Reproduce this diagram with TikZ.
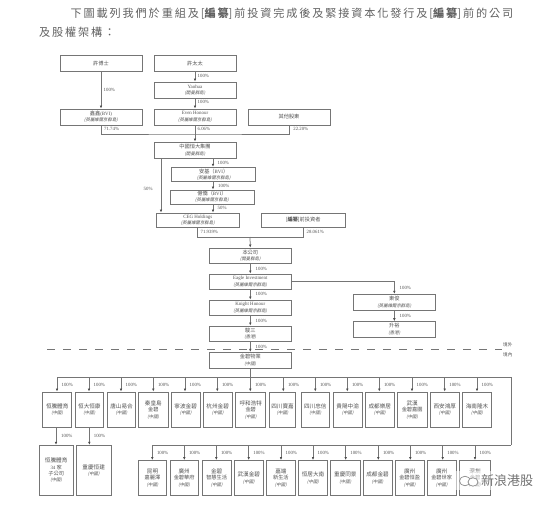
\documentclass[tikz,border=0pt]{standalone}
\usepackage{fontspec}
\setmainfont{Liberation Serif}
\newfontfamily\cjk{Noto Sans CJK TC}
\newfontfamily\cjki[FakeSlant=0.2]{Noto Sans CJK TC}
\usetikzlibrary{arrows.meta}
\definecolor{ln}{gray}{0.46}
\definecolor{tx}{gray}{0.32}
\tikzset{
 bx/.style={draw=ln,line width=0.95pt,fill=white,text=tx,align=center,inner sep=0pt,font=\fontsize{5.2}{6.4}\selectfont\cjk},
 cn/.style={draw=ln,line width=0.75pt},
 ar/.style={draw=ln,line width=0.75pt,-{Latex[length=3pt,width=2.6pt,color=black!70]}},
 pct/.style={text=tx,font=\fontsize{4.8}{5}\selectfont,inner sep=0pt,anchor=west},
 side/.style={text=tx,font=\fontsize{4.6}{5}\selectfont\cjk,inner sep=0pt,anchor=west},
 head/.style={text=black!62,font=\fontsize{11.15}{13}\selectfont\cjk,inner sep=0pt,anchor=west},
}
\newcommand{\bxn}[6]{\node[bx,minimum width=#4pt-#2pt,minimum height=#5pt-#3pt] (#1) at ({(#2+#4)/2},{(#3+#5)/2}) {#6};}
\newcommand{\lat}[1]{{\rmfamily\fontsize{4.9}{6.4}\selectfont #1}}
\newcommand{\ql}[1]{{\cjki\fontsize{4.4}{6.4}\selectfont (#1)}}
\newcommand{\rowf}{\fontsize{5.6}{6.8}\selectfont}
\begin{document}
\begin{tikzpicture}[x=1pt,y=-1pt]
\useasboundingbox (0,0) rectangle (550,506);
\fill[white] (0,0) rectangle (550,506);
% heading
\node[head] (h1) at (70.5,14) {下\,圖\,載\,列\,我\,們\,於\,重\,組\,及\,[\textbf{編\,纂}]\,前\,投\,資\,完\,成\,後\,及\,緊\,接\,資\,本\,化\,發\,行\,及\,[\textbf{編\,纂}]\,前\,的\,公\,司};
\node[head] (h2) at (39,32) {及\,股\,權\,架\,構\,：};
% upper chain
\bxn{a1}{60}{55}{142}{71.5}{許博士}
\bxn{a2}{154}{55}{236}{71.5}{許太太}
\bxn{a3}{154}{82}{236}{98}{\lat{Yaohua}\\\ql{開曼群島}}
\bxn{a4}{60}{109}{142}{125}{鑫鑫\lat{(BVI)}\\\ql{英屬維爾京群島}}
\bxn{a5}{154}{109}{236}{125}{\lat{Even Honour}\\\ql{英屬維爾京群島}}
\bxn{a6}{248}{109}{330}{125}{其他股東}
\bxn{b1}{154}{142}{236}{158.5}{中國恒大集團\\\ql{開曼群島}}
\bxn{b2}{171.7}{167.3}{255.7}{181.7}{安基（\lat{BVI}）\\\ql{英屬維爾京群島}}
\bxn{b3}{170}{190}{254}{204}{億僑（\lat{BVI}）\\\ql{英屬維爾京群島}}
\bxn{b4}{156}{213}{239.7}{227}{\lat{CEG Holdings}\\\ql{英屬維爾京群島}}
\bxn{b5}{261.3}{213}{345}{227}{[\textbf{編纂}]前投資者}
\bxn{c1}{209.3}{248}{291.3}{263.7}{本公司\\\ql{開曼群島}}
\bxn{c2}{209.3}{274}{291.3}{289.7}{\lat{Eagle Investment}\\\ql{英屬維爾京群島}}
\bxn{c3}{209.3}{300}{291.3}{315.3}{\lat{Knight Honour}\\\ql{英屬維爾京群島}}
\bxn{c4}{209.3}{326}{291.3}{341.7}{駿三\\\ql{香港}}
\bxn{c5}{209.3}{352.3}{291.3}{368}{金碧物業\\\ql{中國}}
\bxn{d1}{353.7}{294.3}{435}{310}{東俊\\\ql{英屬維爾京群島}}
\bxn{d2}{353.7}{321.7}{435}{337}{升裕\\\ql{香港}}
% connectors upper
\coordinate (xm) at (213,0);
\coordinate (xl) at (161,0);
\coordinate (xa) at (197.7,0);
\coordinate (xb) at (303.3,0);
\coordinate (busA) at (195,134);
\coordinate (busB) at (250,237);
\coordinate (ye) at (0,281);
\draw[ar] (a1) -- (a4);
\draw[ar] (a2) -- (a3);
\draw[ar] (a3) -- (a5);
\draw[cn] (a4.south) |- (busA) -| (a6.south);
\draw[cn] (a5.south) -- (busA);
\draw[ar] (busA) -- (b1.north);
\draw[ar] (b1.south -| xm) -- (b2.north -| xm);
\draw[ar] (b2.south -| xm) -- (b3.north -| xm);
\draw[ar] (b3.south -| xm) -- (b4.north -| xm);
\draw[ar] (b1.south -| xl) -- (b4.north -| xl);
\draw[cn] (b4.south -| xa) |- (busB);
\draw[cn] (b5.south -| xb) |- (busB);
\draw[ar] (busB) -- (c1.north);
\draw[ar] (c1) -- (c2);
\draw[ar] (c2) -- (c3);
\draw[ar] (c3) -- (c4);
\draw[ar] (c4) -- (c5);
\draw[ar] (c2.east |- ye) -| (d1.north);
\draw[ar] (d1) -- (d2);
% dashed border
\coordinate (dL) at (47,349.3);
\coordinate (dR) at (502,349.3);
\draw[draw=ln,line width=0.6pt,dash pattern=on 8pt off 8pt] (dL) -- (dR);
\node[side] (w1) at (503,344.5) {境外};
\node[side] (w2) at (503,354.5) {境內};
% percent labels
\foreach \px/\py/\pt in {
 197/75.5/100\%, 103/89.7/100\%, 197/102/100\%, 103.5/129/71.74\%, 197/129/6.06\%, 292.7/129/22.20\%,
 217/163/100\%, 217.5/185.7/100\%, 217/208/50\%, 200/231.7/71.939\%, 306/231.7/28.061\%,
 255/268.7/100\%, 255/294.3/100\%, 255/320.7/100\%, 255/347.3/100\%, 399/288.3/100\%, 399/316/100\%,
 143/189/50\%}
 {\node[pct,fill=white,inner xsep=0.5pt] at (\px,\py) {\pt};}
% row 1
\foreach \nm/\lx/\rx/\ax/\lab in {
 r1/42.7/71.7/57/恒騰體育,
 r2/75/103.7/89/恒大恒康,
 r3/107.3/135.7/121/唐山易合,
 r4/138.7/168/153.3/秦皇島\\金碧,
 r5/171.3/200/185/寧波金碧,
 r6/203.3/232/217.3/杭州金碧,
 r7/235.7/265.7/250.3/呼和浩特\\金碧,
 r8/269.3/295.7/283.3/四川寶嘉,
 r9/301/329.7/315.3/四川忠信,
 r10/333.3/362/347.3/貴陽中渝,
 r11/365.3/394.3/379.3/成都樂居,
 r12/397.3/427/412/武漢\\金碧嘉園,
 r13/430.3/459.3/444.7/西安鴻厚,
 r14/462.7/491.3/477/海南隆木}
{
 \bxn{\nm}{\lx}{392}{\rx}{427.5}{\rowf\lab\\\ql{中國}}
 \coordinate (\nm t) at (\ax,377.3);
 \draw[ar] (\nm t) -- (\nm.north -| \nm t);
 \node[pct] at (\ax+4.5,385) {100\%};
}
% bus row 1 and run round to row 2
\coordinate (busE) at (511,377.3);
\coordinate (busF) at (511,445.3);
\draw[cn] (r1t) -- (busE) -- (busF);
\draw[cn] (c5.south) -- (c5.south |- r1t);
% row 2
\foreach \nm/\lx/\rx/\ax/\lab in {
 s1/138.3/166.7/152.3/昆明\\嘉麗澤,
 s2/170/198.3/184.3/廣州\\金碧華府,
 s3/202.3/231/216.3/金碧\\智慧生活,
 s4/234.3/263.3/248.7/武漢金碧,
 s5/266/295.7/281/嘉端\\新生活,
 s6/298.7/327.3/313/恒居大南,
 s7/330.7/360/345.7/重慶同景,
 s8/363/392/378.3/成都金碧,
 s9/395.3/424/410.3/廣州\\金碧恒盈,
 s10/427.3/456/442.7/廣州\\金碧世家,
 s11/459.3/490.7/475/深圳\\金碧}
{
 \bxn{\nm}{\lx}{460.5}{\rx}{495.3}{\rowf\lab\\\ql{中國}}
 \coordinate (\nm t) at (\ax,445.3);
 \draw[ar] (\nm t) -- (\nm.north -| \nm t);
 \node[pct] at (\ax+4.5,452.7) {100\%};
}
\draw[cn] (busF) -- (s1t);
% children of r1, r2
\bxn{t1}{39}{445.3}{73.3}{495.3}{\rowf 恒騰體育\\\lat{34} 家\\子公司\\\ql{中國}}
\bxn{t2}{76.3}{445.3}{111}{495.3}{\rowf 重慶恒建\\\ql{中國}}
\coordinate (xt1) at (56,0);
\draw[ar] (r1.south -| xt1) -- (t1.north -| xt1);
\draw[ar] (r2.south) -- (t2.north -| r2.south);
\node[pct] (pt1) at (61,436) {100\%};
\node[pct] (pt2) at (93.7,436) {100\%};
% watermark
\fill[white,opacity=0.55] (456,471) rectangle (532,490);
\draw[draw=black!45,line width=0.7pt,fill=white] (465,481) ellipse (5.5 and 4.8);
\draw[draw=black!45,line width=0.7pt,fill=white] (473,482) ellipse (5 and 4.2);
\node[font=\fontsize{13}{14}\selectfont\cjk,text=black!55,inner sep=0pt,anchor=west] (wm) at (481,481) {新浪港股};
\end{tikzpicture}
\end{document}
